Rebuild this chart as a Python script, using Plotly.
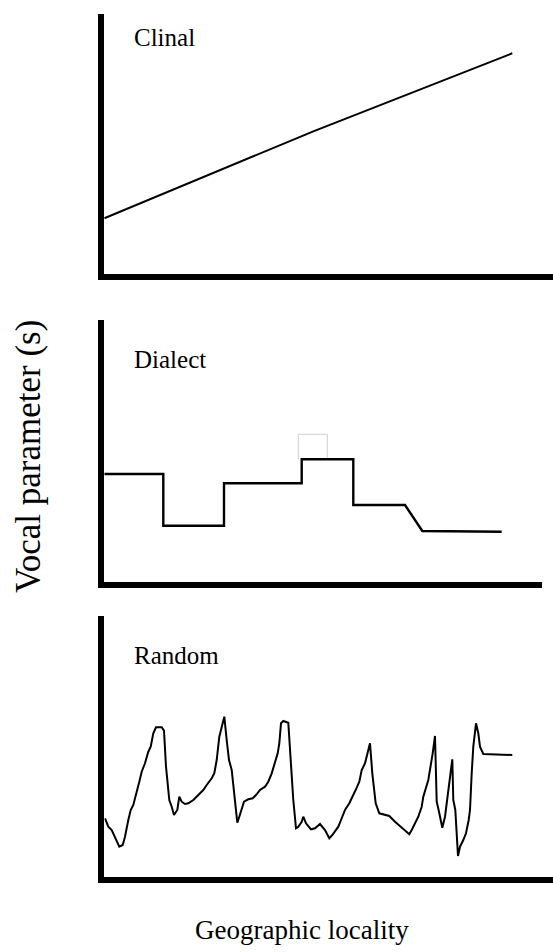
import plotly.graph_objects as go

# ---- data (locality along x, vocal parameter along y) ----
clinal_x = [0, 209, 408]
clinal_y = [56, 143, 221]

dialect_x = [0, 59, 59, 119.7, 119.7, 197.4, 197.4, 249, 249, 300.7, 318, 397.4]
dialect_y = [108, 108, 56.3, 56.3, 98.7, 98.7, 122.7, 122.7, 77, 77, 51, 50.3]

# faint outlined box sitting on the highest dialect step
box_x = [194, 194, 223, 223]
box_y = [122.7, 147.7, 147.7, 122.7]

random_x = [0.7, 4.0, 7.4, 10.7, 15.0, 18.4, 20.7, 24.0, 26.4, 29.0, 32.4, 35.0, 37.4,
            40.7, 44.0, 46.4, 49.0, 51.7, 57.4, 59.7, 61.7, 63.0, 65.0, 67.4, 69.7,
            73.0, 75.0, 77.4, 80.7, 84.0, 89.0, 94.0, 99.0, 102.4, 107.4, 110.0,
            112.4, 115.0, 117.4, 120.0, 122.4, 124.7, 127.4, 129.7, 133.0, 135.0,
            137.4, 139.7, 144.0, 148.4, 151.7, 155.7, 160.7, 164.0, 167.4, 170.7,
            173.4, 175.0, 176.7, 179.0, 184.0, 186.4, 189.0, 191.7, 194.0, 197.4,
            199.0, 201.7, 206.7, 210.7, 215.7, 220.7, 225.0, 228.0, 231.7, 234.0,
            236.7, 240.7, 245.0, 248.4, 251.7, 255.0, 257.4, 260.7, 263.0, 265.7,
            268.0, 271.4, 275.0, 280.7, 285.0, 290.7, 295.7, 300.7, 305.0, 307.4,
            310.7, 314.0, 317.4, 319.0, 324.0, 326.4, 328.4, 330.7, 332.4, 334.7,
            338.0, 340.7, 343.4, 345.7, 348.0, 349.0, 351.0, 353.7, 355.7, 359.0,
            361.7, 364.4, 365.7, 367.4, 369.0, 371.7, 374.0, 375.7, 379.0, 408.0]
random_y = [58.7, 50.3, 47.0, 40.3, 30.3, 32.0, 40.3, 57.0, 67.0, 72.0, 87.0, 95.3, 105.3,
            113.7, 125.3, 130.3, 143.7, 149.7, 149.7, 146.3, 110.3, 97.0, 77.0, 70.3, 62.0,
            67.0, 80.3, 75.3, 73.0, 73.7, 77.0, 82.0, 87.0, 92.0, 98.7, 103.7,
            117.0, 140.3, 150.3, 160.3, 137.0, 117.0, 107.0, 85.3, 54.3, 60.3,
            68.7, 75.3, 77.7, 78.7, 82.0, 87.0, 90.3, 95.3, 103.7, 113.7,
            123.7, 133.7, 153.7, 156.0, 154.3, 117.0, 77.0, 48.7, 50.3, 55.3,
            60.3, 53.7, 47.7, 48.7, 53.0, 47.0, 38.7, 42.0, 47.0, 50.3,
            57.0, 67.0, 73.7, 80.3, 87.7, 95.3, 107.0, 113.7, 123.7, 133.7,
            103.7, 73.7, 63.7, 62.0, 61.0, 55.3, 51.0, 47.0, 42.7, 47.0,
            53.7, 60.3, 70.3, 80.3, 97.0, 110.3, 123.7, 141.0, 75.3, 65.3,
            49.3, 60.3, 80.3, 97.0, 117.7, 77.0, 67.0, 21.0, 30.3, 37.0,
            43.7, 57.0, 67.0, 103.7, 130.3, 153.7, 143.7, 130.3, 123.0, 122.0]

panel_titles = ["Clinal", "Dialect", "Random"]
x_title = "Geographic locality"
y_title = "Vocal parameter (s)"

# ---- layout geometry (pixels) ----
W, H = 553, 952
LEFT = 104.3
# (top, bottom, right) of each panel's plotting area
panels = [(14, 274.3, 553), (319.5, 582, 542), (616, 877, 553)]

FONT = "Liberation Serif, Times New Roman, serif"

fig = go.Figure()

fig.add_trace(go.Scatter(x=clinal_x, y=clinal_y, mode="lines",
                         line=dict(color="black", width=2), xaxis="x", yaxis="y",
                         hoverinfo="skip"))
fig.add_trace(go.Scatter(x=box_x, y=box_y, mode="lines",
                         line=dict(color="#cfcfcf", width=1), xaxis="x2", yaxis="y2",
                         hoverinfo="skip"))
fig.add_trace(go.Scatter(x=dialect_x, y=dialect_y, mode="lines",
                         line=dict(color="black", width=2.4), xaxis="x2", yaxis="y2",
                         hoverinfo="skip"))
fig.add_trace(go.Scatter(x=random_x, y=random_y, mode="lines",
                         line=dict(color="black", width=2), xaxis="x3", yaxis="y3",
                         hoverinfo="skip"))

axis_common = dict(showline=True, linewidth=6, linecolor="black", showgrid=False,
                   zeroline=False, showticklabels=False, ticks="", fixedrange=True)

layout = dict(width=W, height=H, margin=dict(l=0, r=0, t=0, b=0),
              paper_bgcolor="white", plot_bgcolor="white", showlegend=False)

for i, (top, bot, right) in enumerate(panels):
    sfx = "" if i == 0 else str(i + 1)
    layout["xaxis" + sfx] = dict(domain=[LEFT / W, right / W], range=[0, right - LEFT],
                                 anchor="y" + sfx, **axis_common)
    layout["yaxis" + sfx] = dict(domain=[1 - bot / H, 1 - top / H], range=[0, bot - top],
                                 anchor="x" + sfx, **axis_common)

fig.update_layout(**layout)

title_centers = [38, 359, 655]
for name, yc in zip(panel_titles, title_centers):
    fig.add_annotation(text=name, x=132 / W, y=1 - yc / H, xref="paper", yref="paper",
                       xanchor="left", yanchor="middle", showarrow=False,
                       font=dict(family=FONT, size=25, color="black"))

fig.add_annotation(text=x_title, x=302 / W, y=1 - 929.5 / H, xref="paper", yref="paper",
                   xanchor="center", yanchor="middle", showarrow=False,
                   font=dict(family=FONT, size=27, color="black"))
fig.add_annotation(text=y_title, x=28 / W, y=1 - 457 / H, xref="paper", yref="paper",
                   xanchor="center", yanchor="middle", showarrow=False, textangle=-90,
                   font=dict(family=FONT, size=35, color="black"))

fig.write_html("out.html")
